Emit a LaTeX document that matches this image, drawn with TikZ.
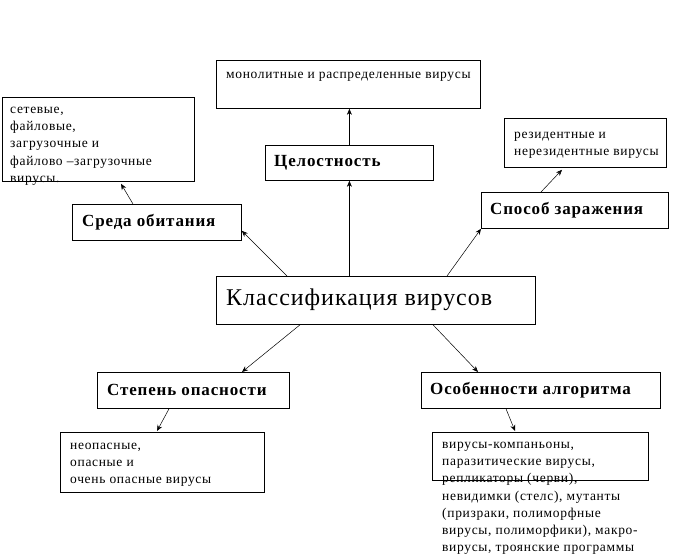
\documentclass[tikz,border=0pt]{standalone}
\usepackage{fontspec}
\setmainfont{Liberation Serif}
\newfontfamily\notefont[LetterSpace=5]{Liberation Serif}
\newfontfamily\headfont[LetterSpace=5]{Liberation Serif}
\newfontfamily\mainfont[LetterSpace=4]{Liberation Serif}
\usetikzlibrary{arrows.meta,positioning}

\begin{document}
\begin{tikzpicture}[x=1pt,y=-1pt, box/.style={draw,line width=0.8pt,inner sep=0pt,anchor=north west}, note/.style={anchor=north west,align=left,inner sep=0pt,font=\notefont\fontsize{13.5}{17.2}\selectfont}, head/.style={anchor=base west,inner sep=0pt,font=\headfont\fontsize{17}{19}\selectfont\bfseries}, arr/.style={-{Stealth[length=6pt,width=5pt]},line width=0.5pt}]
\useasboundingbox (0,0) rectangle (674,556);
% boxes
\node[box,minimum width=264,minimum height=48] (whole) at (216,60) {};
\node[box,minimum width=168,minimum height=35] (cel) at (265,145) {};
\node[box,minimum width=192,minimum height=84] (place) at (2,97) {};
\node[box,minimum width=169,minimum height=36] (habitat) at (72,204) {};
\node[box,minimum width=162,minimum height=49] (resid) at (504,118) {};
\node[box,minimum width=187,minimum height=36] (infect) at (481,192) {};
\node[box,minimum width=319,minimum height=48] (main) at (216,276) {};
\node[box,minimum width=192,minimum height=36] (danger) at (97,372) {};
\node[box,minimum width=239,minimum height=36] (algo) at (421,372) {};
\node[box,minimum width=204,minimum height=60] (levels) at (60,432) {};
\node[box,minimum width=216,minimum height=48] (kinds) at (432,432) {};
% texts
\node[note] (wholetxt) at (226,72) {монолитные и распределенные вирусы};
\node[head] (celtxt) at (274,167) {Целостность};
\node[note] (placetxt) at (10,107) {сетевые,\\файловые,\\загрузочные и\\файлово –загрузочные\\вирусы.};
\node[head] (habitattxt) at (82,226) {Среда обитания};
\node[note] (residtxt) at (514,132) {резидентные и\\нерезидентные вирусы};
\node[head] (infecttxt) at (490,214) {Способ заражения};
\node[anchor=base west,inner sep=0pt,font=\mainfont\fontsize{24}{26}\selectfont] (maintxt) at (226,305) {Классификация вирусов};
\node[head] (dangertxt) at (107,395) {Степень опасности};
\node[head] (algotxt) at (430,394) {Особенности алгоритма};
\node[note] (levelstxt) at (70,443) {неопасные,\\опасные и\\очень опасные вирусы};
\node[note] (kindstxt) at (442,442) {вирусы-компаньоны,\\паразитические вирусы,\\репликаторы (черви),\\невидимки (стелс), мутанты\\(призраки, полиморфные\\вирусы, полиморфики), макро-\\вирусы, троянские программы};
% arrows
\draw[arr] (cel.south |- main.north) -- (cel.south);
\draw[arr] (cel.north) -- (cel.north |- whole.south);
\draw[arr] ([shift={(71,0)}]main.north west) -- ([shift={(0,-10)}]habitat.south east);
\draw[arr] ([shift={(61,0)}]habitat.north west) -- ([shift={(119,2)}]place.south west);
\draw[arr] ([shift={(231,0)}]main.north west) -- (infect.south west);
\draw[arr] ([shift={(60,0)}]infect.north west) -- ([shift={(58,2)}]resid.south west);
\draw[arr] ([shift={(84,0)}]main.south west) -- ([shift={(145,0)}]danger.north west);
\draw[arr] ([shift={(217,0)}]main.south west) -- ([shift={(57,0)}]algo.north west);
\draw[arr] ([shift={(72,0)}]danger.south west) -- ([shift={(97,-1)}]levels.north west);
\draw[arr] ([shift={(85,0)}]algo.south west) -- ([shift={(83,-1)}]kinds.north west);
\end{tikzpicture}
\end{document}
